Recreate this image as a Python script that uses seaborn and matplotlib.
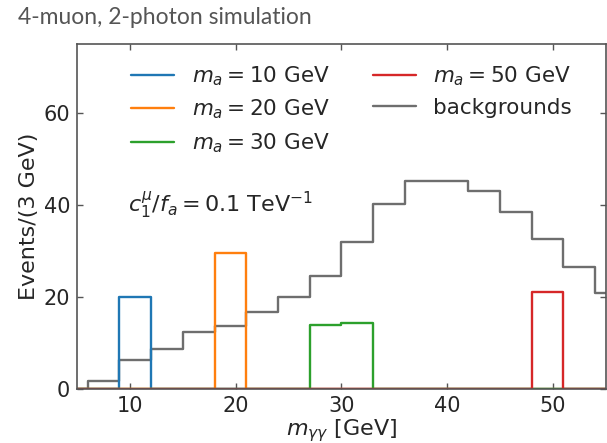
import numpy as np
import pandas as pd
import matplotlib
matplotlib.use("Agg")
import matplotlib.pyplot as plt
import seaborn as sns

# Common 3 GeV binning for all histograms
bin_edges = list(range(0, 58, 3))
bin_centers = [e + 1.5 for e in bin_edges[:-1]]

# Event counts per 3 GeV bin (bins 0-3, 3-6, ..., 54-57)
background = [0, 0, 1.7, 6.2, 8.7, 12.3, 13.7, 16.7, 19.9, 24.6, 32.0,
              40.2, 45.1, 45.2, 43.1, 38.4, 32.6, 26.6, 20.8]
signal_10 = [0, 0, 0, 19.9, 0, 0, 0, 0, 0, 0, 0, 0, 0, 0, 0, 0, 0, 0, 0]
signal_20 = [0, 0, 0, 0, 0, 0, 29.5, 0, 0, 0, 0, 0, 0, 0, 0, 0, 0, 0, 0]
signal_30 = [0, 0, 0, 0, 0, 0, 0, 0, 0, 13.9, 14.3, 0, 0, 0, 0, 0, 0, 0, 0]
signal_50 = [0, 0, 0, 0, 0, 0, 0, 0, 0, 0, 0, 0, 0, 0, 0, 0, 21.0, 0, 0]

signal_labels = [r"$m_a = 10$ GeV", r"$m_a = 20$ GeV",
                 r"$m_a = 30$ GeV", r"$m_a = 50$ GeV"]
background_label = "backgrounds"
signal_colors = ["#1f77b4", "#ff7f0e", "#2ca02c", "#d62728"]
background_color = "#6e6e6e"

sns.set_theme(style="ticks")
plt.rcParams["font.family"] = ["DejaVu Sans"]
plt.rcParams["mathtext.fontset"] = "dejavusans"

fig = plt.figure(figsize=(6.07, 4.43), dpi=100)
ax = fig.add_axes([0.127, 0.122, 0.871, 0.779])

lw = 1.7


def draw_hist(counts, color, label):
    df = pd.DataFrame({"m": bin_centers, "n": counts})
    sns.histplot(data=df, x="m", weights="n", bins=bin_edges,
                 element="step", fill=False, color=color,
                 linewidth=lw, ax=ax, label=label)


draw_hist(background, background_color, background_label)
for counts, lab, col in zip([signal_10, signal_20, signal_30, signal_50],
                            signal_labels, signal_colors):
    draw_hist(counts, col, lab)

lines = {ln.get_label(): ln for ln in ax.get_lines()}
order = signal_labels[:3] + [signal_labels[3], background_label]
ax.legend([lines[k] for k in order], order, ncol=2, frameon=False,
          loc="upper center", bbox_to_anchor=(0.519, 0.985), fontsize=15.5,
          handlelength=2.0, columnspacing=2.0, labelspacing=0.46,
          handletextpad=0.8, borderaxespad=0.3)

ax.set_xlim(5, 55)
ax.set_ylim(0, 75)
ax.set_xticks([10, 20, 30, 40, 50])
ax.set_yticks([0, 20, 40, 60])
ax.tick_params(direction="in", top=True, right=True, length=4,
               width=1, labelsize=15, color="#555555", pad=5)
for sp in ax.spines.values():
    sp.set_color("#555555")
    sp.set_linewidth(1.2)

ax.set_xlabel(r"$m_{\gamma\gamma}$ [GeV]", fontsize=16, labelpad=1)
ax.set_ylabel("Events/(3 GeV)", fontsize=16, labelpad=3)

ax.text(9.8, 40, r"$c_1^{\mu}/f_a = 0.1$ TeV$^{-1}$", fontsize=16,
        ha="left", va="center")

fig.text(0.03, 0.96, "4-muon, 2-photon simulation", fontsize=16.5,
         family=["Lato", "DejaVu Sans"], color="#555555", ha="left",
         va="center")

fig.savefig("out.png", dpi=100)
